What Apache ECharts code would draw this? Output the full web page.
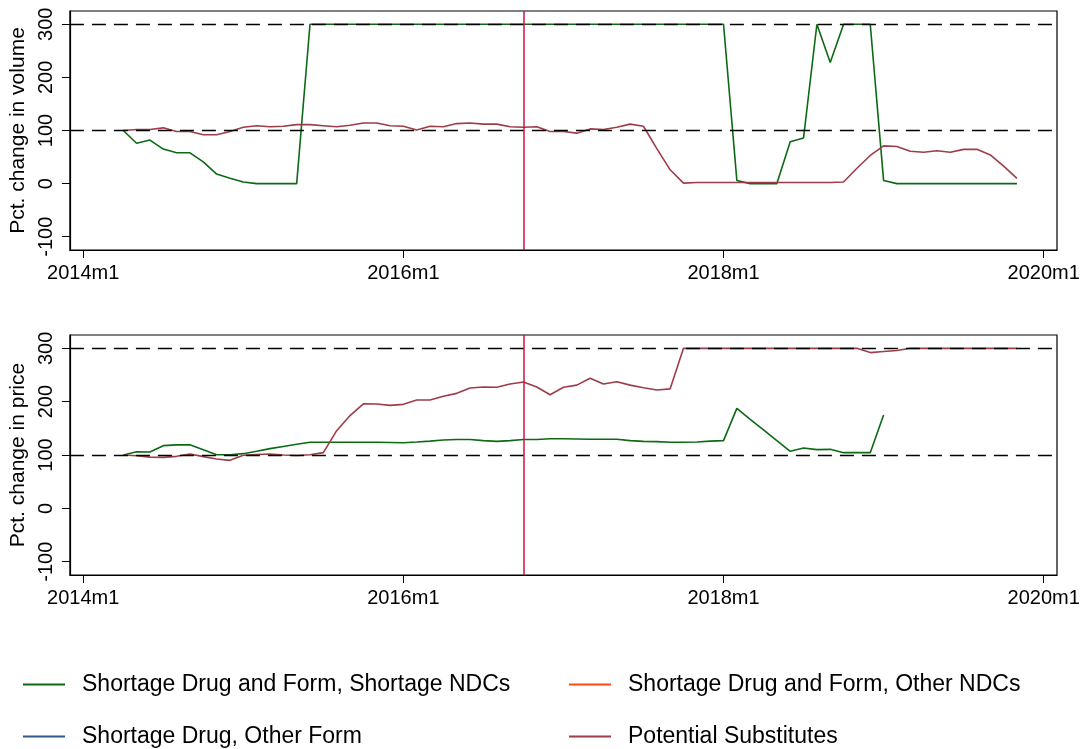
<!DOCTYPE html>
<html>
<head>
<meta charset="utf-8">
<script src="https://cdn.jsdelivr.net/npm/echarts@6/dist/echarts.min.js"></script>
<style>
  html, body { margin: 0; padding: 0; background: #fff; }
  #chart { width: 1087px; height: 749px; }
</style>
</head>
<body>
<div id="chart"></div>
<script>
// Months are counted from 2014m1 = 0.
const firstMonth = 3;          // 2014m4, first observation
const eventMonth = 33;         // 2016m10, shortage start
const xTicks = [0, 24, 48, 72];
const yTicks = [-100, 0, 100, 200, 300];
const refLevels = [100, 300];

const nameShortNdc = 'Shortage Drug and Form, Shortage NDCs';
const nameOtherNdc = 'Shortage Drug and Form, Other NDCs';
const nameOtherForm = 'Shortage Drug, Other Form';
const nameSubst = 'Potential Substitutes';

// Volume, percent of baseline (top-coded at 300)
const volShortage = [
  100, 76, 82, 65, 58, 58, 41, 18, 10, 3, 0, 0, 0, 0,
  300, 300, 300, 300, 300, 300, 300, 300, 300, 300, 300, 300, 300, 300, 300, 300,
  300, 300, 300, 300, 300, 300, 300, 300, 300, 300, 300, 300, 300, 300, 300, 300,
  6, 0, 0, 0, 79, 86, 300, 228, 300, 300, 300, 6,
  0, 0, 0, 0, 0, 0, 0, 0, 0, 0
];
const volSubst = [
  100, 102, 102, 105, 98, 98, 92, 92, 98, 106, 109, 107, 108, 111, 111, 109,
  107, 110, 114, 114, 109, 108, 101, 108, 107, 113, 114, 112, 112, 107, 106, 107,
  98, 98, 95, 103, 102, 106, 112, 108, 66, 26, 1, 2, 2, 2, 2, 2,
  2, 2, 2, 2, 2, 2, 3, 29, 53, 71, 70, 61, 59, 62, 59, 64.5,
  64.5, 54, 33, 10
];

// Price, percent of baseline (top-coded at 300)
const priceShortage = [
  100, 106, 105.6, 117.5, 119, 119, 110, 100.6, 100.6, 102.5, 107, 112, 116, 120,
  124, 124, 124, 124, 124, 124, 123.5, 123, 124.4, 126, 128, 129, 129, 127, 125.6,
  127, 129, 129, 130.6, 130.6, 130, 129.4, 129.4, 129.4, 127, 125.6, 125, 124, 124,
  124.4, 126, 127, 187.5, 167, 147, 127, 107, 113, 110, 110.6, 104.4, 104.4, 104.4, 175
];
const priceSubst = [
  100, 98.7, 96, 95.6, 97.5, 102, 97, 92.5, 90, 99.4, 101, 102, 100, 99, 100.6, 104.4,
  145.6, 174, 196, 195.6, 193, 195, 203, 203, 210, 215.6, 225.6, 227.5, 227, 233, 237, 227.5,
  213, 227, 231, 244, 233, 237.5, 231, 226, 222, 224,
  300, 300, 300, 300, 300, 300, 300, 300, 300, 300, 300, 300, 300, 300,
  292, 294, 296, 300, 300, 300, 300, 300, 300, 300, 300, 300
];

const colGreen = '#0c6a14';
const colOrange = '#ff4a12';
const colBlue = '#2f5a84';
const colSubst = '#9c3d48';
const colEvent = '#cc1444';

const font = "'Liberation Sans', Arial, Helvetica, sans-serif";

function pairs(values) {
  return values.map((v, i) => [firstMonth + i, v]);
}

function monthLabel(v) {
  return (2014 + Math.round(v / 12)) + 'm1';
}

const grids = [
  { left: 66, right: 30, top: 11, height: 239 },
  { left: 66, right: 30, top: 335, height: 240 }
];

function xAxisFor(idx) {
  return {
    type: 'value', gridIndex: idx, min: -1, max: 73,
    axisLine: { show: true, onZero: false, lineStyle: { color: '#000', width: 1.2 } },
    axisTick: { show: true, length: 8, customValues: xTicks, lineStyle: { color: '#000', width: 1 } },
    axisLabel: {
      customValues: xTicks, formatter: monthLabel, margin: 13,
      color: '#000', fontSize: 20, fontFamily: font
    },
    splitLine: { show: false }
  };
}

function yAxisFor(idx, title) {
  return {
    type: 'value', gridIndex: idx, min: -125, max: 325,
    name: title, nameLocation: 'middle', nameGap: 36, nameRotate: 90,
    nameTextStyle: { color: '#000', fontSize: 21, fontFamily: font },
    axisLine: { show: true, onZero: false, lineStyle: { color: '#000', width: 1.2 } },
    axisTick: { show: true, length: 8, customValues: yTicks, lineStyle: { color: '#000', width: 1 } },
    axisLabel: {
      customValues: yTicks, rotate: 90, margin: 13,
      color: '#000', fontSize: 20, fontFamily: font
    },
    splitLine: { show: false }
  };
}

function refSeries(idx) {
  return {
    type: 'line', xAxisIndex: idx, yAxisIndex: idx, data: [], z: 1,
    silent: true, tooltip: { show: false },
    markLine: {
      silent: true, symbol: 'none', animation: false,
      label: { show: false },
      lineStyle: { color: '#000', width: 1.4, type: [14, 8] },
      data: refLevels.map(v => ({ yAxis: v }))
    }
  };
}

function eventSeries(idx) {
  return {
    type: 'line', xAxisIndex: idx, yAxisIndex: idx, data: [], z: 5,
    silent: true, tooltip: { show: false },
    markLine: {
      silent: true, symbol: 'none', animation: false,
      label: { show: false },
      lineStyle: { color: colEvent, width: 1.5, type: 'solid' },
      data: [{ xAxis: eventMonth }]
    }
  };
}

function dataSeries(idx, name, color, values) {
  return {
    type: 'line', name: name, xAxisIndex: idx, yAxisIndex: idx,
    data: pairs(values), showSymbol: false, symbol: 'none',
    lineStyle: { color: color, width: 1.6 }, itemStyle: { color: color },
    z: 3, animation: false
  };
}

function emptySeries(name, color) {
  return {
    type: 'line', name: name, xAxisIndex: 0, yAxisIndex: 0, data: [],
    lineStyle: { color: color, width: 1.6 }, itemStyle: { color: color }
  };
}

// One legend entry per block: two columns, two rows
function legendItem(name, left, top) {
  return {
    left: left, top: top, data: [name], orient: 'horizontal',
    icon: 'rect', itemWidth: 42, itemHeight: 2,
    textStyle: { color: '#000', fontSize: 23, fontFamily: font, padding: [0, 0, 0, 12] }
  };
}

const option = {
  backgroundColor: '#fff',
  animation: false,
  grid: grids.map(g => Object.assign({ show: true, borderColor: '#000', borderWidth: 1.2, backgroundColor: '#fff' }, g)),
  xAxis: [xAxisFor(0), xAxisFor(1)],
  yAxis: [yAxisFor(0, 'Pct. change in volume'), yAxisFor(1, 'Pct. change in price')],
  legend: [
    legendItem(nameShortNdc, 18, 668),
    legendItem(nameOtherNdc, 564, 668),
    legendItem(nameOtherForm, 18, 720),
    legendItem(nameSubst, 564, 720)
  ],
  series: [
    refSeries(0), refSeries(1),
    dataSeries(0, nameShortNdc, colGreen, volShortage),
    dataSeries(0, nameSubst, colSubst, volSubst),
    dataSeries(1, nameShortNdc, colGreen, priceShortage),
    dataSeries(1, nameSubst, colSubst, priceSubst),
    emptySeries(nameOtherNdc, colOrange),
    emptySeries(nameOtherForm, colBlue),
    eventSeries(0), eventSeries(1)
  ]
};

const chart = echarts.init(document.getElementById('chart'), null, { renderer: 'canvas' });
chart.setOption(option);
</script>
</body>
</html>
